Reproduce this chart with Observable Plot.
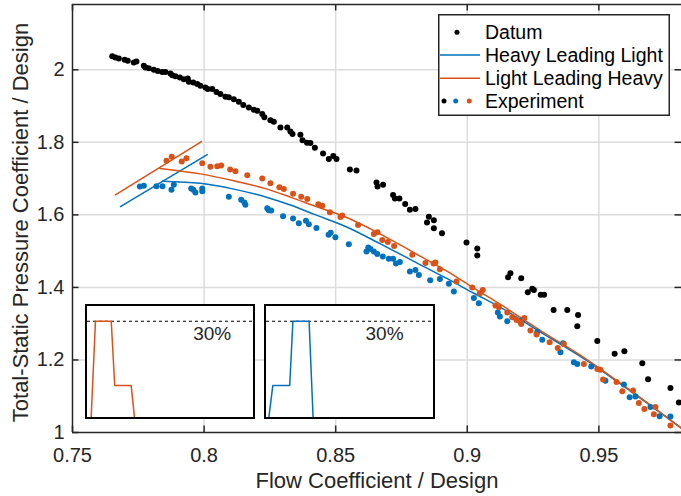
<!DOCTYPE html>
<html>
<head>
<meta charset="utf-8">
<script src="https://cdn.jsdelivr.net/npm/d3@7"></script>
<script src="https://cdn.jsdelivr.net/npm/@observablehq/plot@0.6"></script>
<style>
  html, body { margin: 0; padding: 0; background: #fff; }
  #wrap { position: relative; width: 681px; height: 496px; overflow: hidden; font-family: "Liberation Sans", Arial, Helvetica, sans-serif; }
  .inset { position: absolute; border: 2px solid #000; background: #fff; }
  .inset svg { display: block; }
</style>
</head>
<body>
<div id="wrap"></div>
<script>
// ---------- data ----------
const xTicks = [0.75, 0.8, 0.85, 0.9, 0.95];
const yTicks = [1, 1.2, 1.4, 1.6, 1.8, 2];
const xLabel = "Flow Coefficient / Design";
const yLabel = "Total-Static Pressure Coefficient / Design";
const legendLabels = ["Datum", "Heavy Leading Light", "Light Leading Heavy", "Experiment"];
const insetLabel = "30%";

const datumX = [0.7651,0.7663,0.7676,0.7698,0.7710,0.7733,0.7743,0.7771,0.7777,0.7790,0.7809,0.7824,0.7841,0.7853,0.7872,0.7879,0.7891,0.7908,0.7923,0.7938,0.7942,0.7959,0.7974,0.7986,0.8005,0.8014,0.8031,0.8047,0.8062,0.8081,0.8094,0.8113,0.8132,0.8149,0.8170,0.8189,0.8202,0.8221,0.8229,0.8252,0.8265,0.8290,0.8316,0.8328,0.8336,0.8366,0.8374,0.8391,0.8404,0.8421,0.8452,0.8474,0.8491,0.8503,0.8554,0.8579,0.8655,0.8659,0.8680,0.8718,0.8725,0.8742,0.8764,0.8782,0.8803,0.8854,0.8847,0.8873,0.8873,0.8904,0.8997,0.9038,0.9038,0.9155,0.9164,0.9205,0.9230,0.9247,0.9253,0.9279,0.9292,0.9328,0.9380,0.9421,0.9418,0.9494,0.9560,0.9597,0.9665,0.9687,0.9772,0.9804];
const datumY = [2.037,2.034,2.031,2.028,2.025,2.020,2.023,2.011,2.006,2.004,2.000,1.997,1.994,1.994,1.990,1.985,1.982,1.979,1.974,1.976,1.967,1.965,1.961,1.956,1.951,1.947,1.947,1.939,1.933,1.926,1.924,1.919,1.912,1.903,1.896,1.890,1.887,1.878,1.869,1.861,1.857,1.841,1.841,1.830,1.823,1.821,1.806,1.799,1.798,1.785,1.769,1.754,1.762,1.754,1.725,1.722,1.689,1.678,1.683,1.655,1.645,1.645,1.630,1.614,1.616,1.595,1.579,1.585,1.563,1.549,1.524,1.507,1.488,1.428,1.439,1.425,1.387,1.396,1.393,1.380,1.380,1.338,1.338,1.324,1.293,1.252,1.217,1.224,1.191,1.147,1.123,1.083];

const hllExpX = [0.7756,0.7771,0.7819,0.7842,0.7876,0.7885,0.7951,0.7959,0.7967,0.7993,0.7993,0.8094,0.8141,0.8153,0.8157,0.8240,0.8246,0.8255,0.8300,0.8338,0.8360,0.8387,0.8398,0.8427,0.8473,0.8481,0.8499,0.8550,0.8617,0.8624,0.8632,0.8645,0.8658,0.8679,0.8702,0.8718,0.8729,0.8744,0.8782,0.8803,0.8816,0.8859,0.8896,0.8930,0.8949,0.9025,0.9044,0.9116,0.9124,0.9152,0.9209,0.9266,0.9285,0.9354,0.9364,0.9405,0.9418,0.9471,0.9525,0.9595,0.9617,0.9639,0.9696,0.9731,0.9772];
const hllExpY = [1.678,1.680,1.679,1.679,1.669,1.683,1.673,1.669,1.662,1.673,1.665,1.650,1.642,1.634,1.628,1.618,1.613,1.612,1.596,1.590,1.577,1.584,1.574,1.564,1.545,1.551,1.538,1.519,1.499,1.510,1.506,1.499,1.492,1.485,1.479,1.479,1.466,1.470,1.444,1.448,1.434,1.420,1.423,1.410,1.389,1.371,1.356,1.331,1.320,1.307,1.310,1.278,1.256,1.221,1.246,1.194,1.189,1.182,1.143,1.132,1.097,1.099,1.070,1.045,1.044];

const llhExpX = [0.7857,0.7877,0.7915,0.7933,0.7993,0.8024,0.8050,0.8065,0.8099,0.8119,0.8164,0.8221,0.8252,0.8286,0.8303,0.8338,0.8369,0.8392,0.8434,0.8449,0.8478,0.8518,0.8525,0.8585,0.8645,0.8659,0.8677,0.8698,0.8722,0.8791,0.8841,0.8872,0.8879,0.8896,0.8959,0.9019,0.9048,0.9059,0.9107,0.9120,0.9152,0.9171,0.9187,0.9202,0.9217,0.9205,0.9240,0.9263,0.9313,0.9344,0.9367,0.9443,0.9494,0.9506,0.9516,0.9567,0.9589,0.9630,0.9652,0.9673,0.9715,0.9709,0.9772];
const llhExpY = [1.749,1.760,1.747,1.756,1.742,1.733,1.734,1.736,1.725,1.720,1.709,1.700,1.687,1.676,1.671,1.658,1.650,1.644,1.629,1.625,1.607,1.594,1.598,1.572,1.547,1.552,1.531,1.525,1.514,1.490,1.467,1.466,1.469,1.450,1.416,1.400,1.384,1.393,1.350,1.345,1.331,1.318,1.310,1.304,1.316,1.299,1.281,1.270,1.249,1.233,1.244,1.189,1.175,1.173,1.146,1.139,1.114,1.116,1.081,1.065,1.070,1.050,1.019];

const curveX = [0.7842,0.7986,0.8113,0.8240,0.8328,0.8417,0.8544,0.8670,0.8797,0.8924,0.9025,0.9126,0.9278,0.9449,0.9620,0.9814];
const hllCurveY = [1.693,1.687,1.671,1.648,1.627,1.602,1.566,1.520,1.472,1.424,1.384,1.345,1.277,1.201,1.114,1.012];
const llhCurveX = [0.7832,0.7986,0.8113,0.8240,0.8328,0.8417,0.8544,0.8670,0.8797,0.8924,0.9025,0.9126,0.9278,0.9449,0.9620,0.9814];
const llhCurveY = [1.728,1.713,1.694,1.671,1.649,1.625,1.592,1.547,1.496,1.444,1.398,1.353,1.281,1.204,1.116,1.011];

const hllStallX = [0.7682, 0.8012];
const hllStallY = [1.623, 1.766];
const llhStallX = [0.7663, 0.7990];
const llhStallY = [1.655, 1.802];

// inset distributions (percent of span vs percent)
const insetLLHX = [2.2, 4.8, 14.3, 16.4, 26.3, 28.3];
const insetLLHY = [0, 30, 30, 10, 10, 0];
const insetHLLX = [1.4, 3.8, 13.9, 15.8, 25.5, 27.9];
const insetHLLY = [0, 10, 10, 30, 30, 0];
const insetRef = [30];

// ---------- styling ----------
const BLUE = "#0072BD", ORANGE = "#D95319", AXIS = "#262626", GRID = "#dcdcdc";
const FONT = "'Liberation Sans', Arial, Helvetica, sans-serif";
const zip = (xs, ys) => xs.map((x, i) => ({x, y: ys[i]}));

const xDomain = [0.75, 0.9814], yDomain = [1, 2.18];
const tkX = 6.5 / 2632, tkY = 6.5 / 363; // inward tick lengths in data units

const main = Plot.plot({
  width: 681, height: 496,
  marginLeft: 72, marginRight: 0, marginTop: 4, marginBottom: 64,
  x: {domain: xDomain},
  y: {domain: yDomain},
  style: {fontFamily: FONT, fontSize: "20px", color: AXIS, background: "#fff", overflow: "visible"},
  marks: [
    Plot.ruleX(xTicks.slice(1), {stroke: GRID, strokeWidth: 1.5}),
    Plot.ruleY(yTicks.slice(1), {stroke: GRID, strokeWidth: 1.5}),
    Plot.line(zip(hllStallX, hllStallY), {x: "x", y: "y", stroke: BLUE, strokeWidth: 1.5}),
    Plot.line(zip(llhStallX, llhStallY), {x: "x", y: "y", stroke: ORANGE, strokeWidth: 1.5}),
    Plot.line(zip(curveX, hllCurveY), {x: "x", y: "y", stroke: BLUE, strokeWidth: 1.5, curve: "monotone-x", clip: true}),
    Plot.line(zip(llhCurveX, llhCurveY), {x: "x", y: "y", stroke: ORANGE, strokeWidth: 1.5, curve: "monotone-x", clip: true}),
    Plot.dot(zip(datumX, datumY), {x: "x", y: "y", r: 3, fill: "#000", clip: true}),
    Plot.dot(zip(hllExpX, hllExpY), {x: "x", y: "y", r: 3, fill: BLUE, clip: true}),
    Plot.dot(zip(llhExpX, llhExpY), {x: "x", y: "y", r: 3, fill: ORANGE, clip: true}),
    // box
    Plot.ruleX([xDomain[0]], {stroke: AXIS, strokeWidth: 1.5}),
    Plot.ruleY([yDomain[0]], {stroke: AXIS, strokeWidth: 1.5}),
    Plot.ruleY([yDomain[1]], {stroke: AXIS, strokeWidth: 1.5}),
    // inward ticks
    Plot.ruleX(xTicks, {x: d => d, y1: yDomain[0], y2: yDomain[0] + tkY, stroke: AXIS, strokeWidth: 1.5}),
    Plot.ruleX(xTicks, {x: d => d, y1: yDomain[1], y2: yDomain[1] - tkY, stroke: AXIS, strokeWidth: 1.5}),
    Plot.ruleY(yTicks, {y: d => d, x1: xDomain[0], x2: xDomain[0] + tkX, stroke: AXIS, strokeWidth: 1.5}),
    Plot.ruleY(yTicks, {y: d => d, x1: xDomain[1], x2: xDomain[1] - tkX, stroke: AXIS, strokeWidth: 1.5}),
    Plot.axisX(xTicks, {tickSize: 0, tickPadding: 15, tickFormat: d => String(d), label: null, fill: AXIS}),
    Plot.axisY(yTicks, {tickSize: 0, tickPadding: 8, tickFormat: d => String(d), label: null, fill: AXIS}),
    Plot.text([xLabel], {text: d => d, frameAnchor: "bottom", dy: 48.6, fontSize: 22, fill: AXIS, textAnchor: "middle", lineAnchor: "middle"}),
    Plot.text([yLabel], {text: d => d, frameAnchor: "left", rotate: -90, dx: -52, dy: 4, fontSize: 22, fill: AXIS, textAnchor: "middle", lineAnchor: "middle"})
  ]
});

const wrap = document.getElementById("wrap");
wrap.appendChild(main);

function inset(xs, ys, color, labelX, left, w) {
  const p = Plot.plot({
    width: w, height: 111, margin: 0,
    x: {domain: [0, 100], axis: null},
    y: {domain: [0, 34.6], axis: null},
    style: {fontFamily: FONT, background: "#fff"},
    marks: [
      Plot.ruleY(insetRef, {stroke: "#000", strokeWidth: 1, strokeDasharray: "3,3"}),
      Plot.line(zip(xs, ys), {x: "x", y: "y", stroke: color, strokeWidth: 1.5}),
      Plot.text([insetLabel], {text: d => d, x: labelX, y: 26.1, fontSize: 19, fill: AXIS, textAnchor: "middle", lineAnchor: "middle"})
    ]
  });
  const d = document.createElement("div");
  d.className = "inset";
  d.style.left = left + "px";
  d.style.top = "304px";
  d.style.width = w + "px";
  d.style.height = "111px";
  d.appendChild(p);
  wrap.appendChild(d);
}
inset(insetLLHX, insetLLHY, ORANGE, 75.1, 85, 166);
inset(insetHLLX, insetHLLY, BLUE, 70.7, 264, 167);

// legend
const ns = "http://www.w3.org/2000/svg";
const lg = document.createElementNS(ns, "svg");
lg.setAttribute("width", 232);
lg.setAttribute("height", 102);
lg.style.position = "absolute"; lg.style.left = "438px"; lg.style.top = "14px";
function el(tag, attrs, text) {
  const e = document.createElementNS(ns, tag);
  for (const k in attrs) e.setAttribute(k, attrs[k]);
  if (text) e.textContent = text;
  lg.appendChild(e);
  return e;
}
el("rect", {x: 0.75, y: 0.75, width: 230.5, height: 100.5, fill: "#fff", stroke: AXIS, "stroke-width": 1.5});
const rowY = [18.3, 41, 64.3, 87];
el("circle", {cx: 19, cy: rowY[0], r: 2.5, fill: "#000"});
el("line", {x1: 2, x2: 42, y1: rowY[1], y2: rowY[1], stroke: BLUE, "stroke-width": 1.5});
el("line", {x1: 2, x2: 42, y1: rowY[2], y2: rowY[2], stroke: ORANGE, "stroke-width": 1.5});
el("circle", {cx: 6, cy: rowY[3], r: 2.5, fill: "#000"});
el("circle", {cx: 17.7, cy: rowY[3], r: 2.5, fill: BLUE});
el("circle", {cx: 31.3, cy: rowY[3], r: 2.5, fill: ORANGE});
legendLabels.forEach((t, i) => {
  el("text", {x: 47, y: rowY[i] + 7, "font-size": 19.5, "font-family": FONT, fill: "#000"}, t);
});
wrap.appendChild(lg);
</script>
</body>
</html>
